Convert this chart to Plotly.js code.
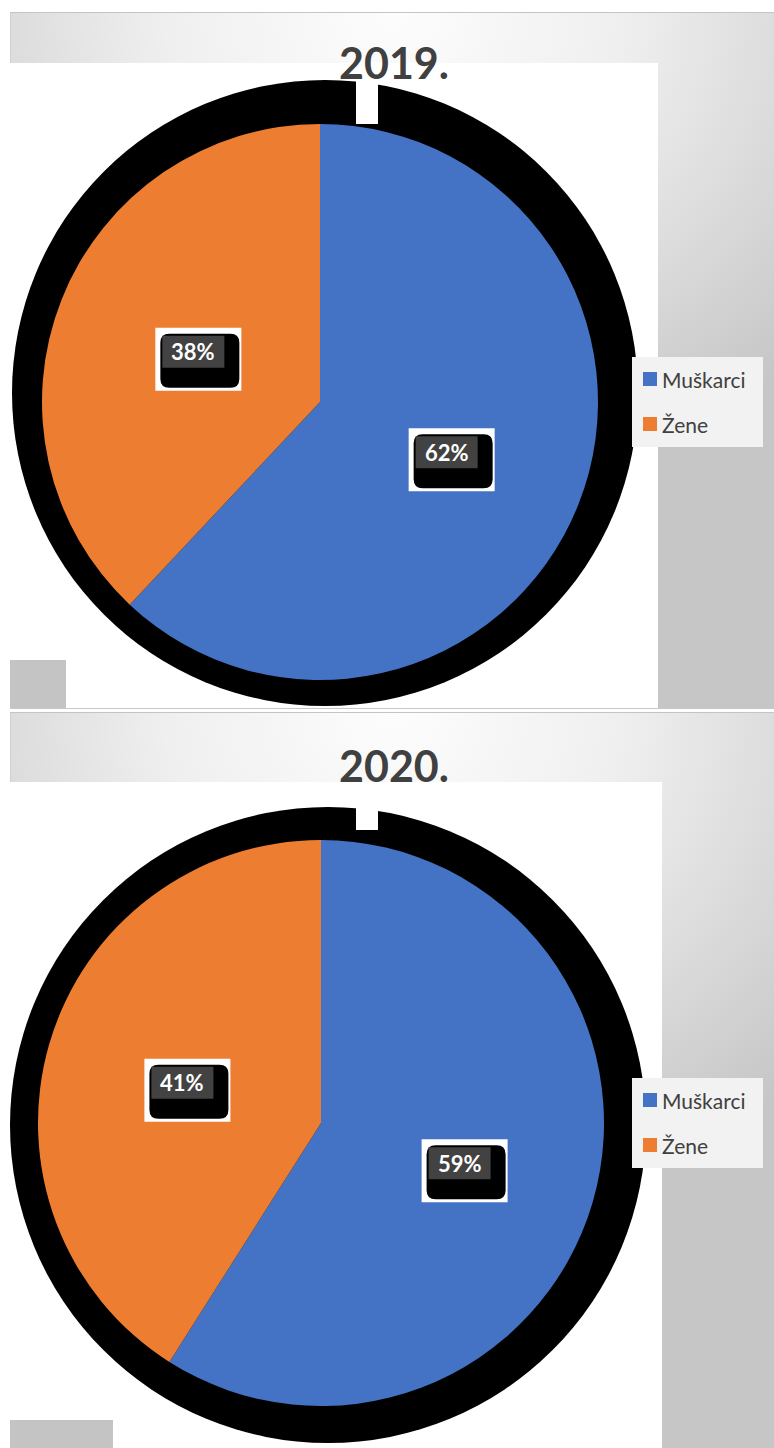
<!DOCTYPE html>
<html><head><meta charset="utf-8">
<script src="https://cdn.plot.ly/plotly-3.0.1.min.js"></script>
<style>
html,body{margin:0;padding:0;width:774px;height:1448px;overflow:hidden;background:#fff;}
.panel{position:absolute;left:10px;width:764px;border-top:1px solid #c4c4c4;border-left:1px solid #d0d0d0;
 background:radial-gradient(ellipse 75% 70% at 50% 0%, #fdfdfd 0%, #efefef 40%, #c6c6c6 100%);}
.white{position:absolute;background:#fff;}
.grey{position:absolute;background:#c4c4c4;}
#chart{position:absolute;left:0;top:0;width:774px;height:1448px;}
</style></head><body>
<div class="panel" style="top:12px;height:696px;"></div>
<div class="white" style="left:10px;top:63px;width:648px;height:645px;"></div>
<div class="grey" style="left:10px;top:660px;width:56px;height:48px;"></div>
<div class="panel" style="top:712px;height:736px;"></div>
<div class="white" style="left:10px;top:782px;width:652px;height:666px;"></div>
<div class="grey" style="left:10px;top:1420px;width:103px;height:28px;"></div>
<div id="chart"></div>
<script>
// ---- data ----
const labels = ["Muškarci", "Žene"];
const titles = ["2019.", "2020."];
const values2019 = [62, 38];
const values2020 = [59, 41];
const colors = ["#4472C4", "#ED7D31"];

const W = 774, H = 1448;
const px = x => x / W, py = y => 1 - y / H;

// layout geometry for each pie (pixels)
const pies = [
  {vals: values2019, title: titles[0], cx: 320, cy: 402, r: 278, titleY: 63,
   shadow: {cx: 325, cy: 393, r: 313}, gap: [356, 62, 378, 124], legendTop: 357, labelR: 0.49},
  {vals: values2020, title: titles[1], cx: 321, cy: 1123, r: 283, titleY: 765,
   shadow: {cx: 328, cy: 1125, r: 318}, gap: [356, 782, 378, 830], legendTop: 1078, labelR: 0.51}
];

const traces = [], shapes = [], annotations = [];
pies.forEach((p, i) => {
  shapes.push({type: 'circle', xref: 'paper', yref: 'paper', layer: 'below',
    x0: px(p.shadow.cx - p.shadow.r), x1: px(p.shadow.cx + p.shadow.r),
    y0: py(p.shadow.cy + p.shadow.r), y1: py(p.shadow.cy - p.shadow.r),
    fillcolor: '#000', line: {width: 0}});
  shapes.push({type: 'rect', xref: 'paper', yref: 'paper', layer: 'below',
    x0: px(p.gap[0]), x1: px(p.gap[2]), y0: py(p.gap[3]), y1: py(p.gap[1]),
    fillcolor: '#fff', line: {width: 0}});
  traces.push({
    type: 'pie', labels: labels, values: p.vals, sort: false, direction: 'clockwise', rotation: 0,
    marker: {colors: colors, line: {width: 0}}, textinfo: 'none', hoverinfo: 'label+percent',
    showlegend: false,
    domain: {x: [px(p.cx - p.r), px(p.cx + p.r)], y: [py(p.cy + p.r), py(p.cy - p.r)]}
  });
  annotations.push({text: '<b>' + p.title + '</b>', xref: 'paper', yref: 'paper',
    x: px(394), y: py(p.titleY), xanchor: 'center', yanchor: 'middle', showarrow: false,
    font: {family: 'Lato, sans-serif', size: 43, color: '#404040'}});
  const total = p.vals.reduce((a, b) => a + b, 0);
  let cum = 0;
  p.vals.forEach((v, k) => {
    const mid = (cum + v / 2) / total * 2 * Math.PI; cum += v;
    const tx = p.cx + p.labelR * p.r * Math.sin(mid);
    const ty = p.cy - p.labelR * p.r * Math.cos(mid);
    shapes.push({type: 'rect', xref: 'paper', yref: 'paper', layer: 'above',
      x0: px(tx - 38), x1: px(tx + 48), y0: py(ty + 39), y1: py(ty - 24), fillcolor: '#fff', line: {width: 0}});
    shapes.push({type: 'path', xref: 'paper', yref: 'paper', layer: 'above',
      path: roundRect(tx - 33, ty - 18, tx + 46, ty + 36, 9), fillcolor: '#000', line: {width: 0}});
    shapes.push({type: 'rect', xref: 'paper', yref: 'paper', layer: 'above',
      x0: px(tx - 31), x1: px(tx + 31), y0: py(ty + 16), y1: py(ty - 16), fillcolor: '#424242', line: {width: 0}});
    annotations.push({text: '<b>' + Math.round(v / total * 100) + '%</b>', xref: 'paper', yref: 'paper',
      x: px(tx), y: py(ty), xanchor: 'center', yanchor: 'middle', showarrow: false,
      font: {family: 'Lato, sans-serif', size: 22, color: '#fff'}});
  });
  const lx = 632, ly = p.legendTop;
  shapes.push({type: 'rect', xref: 'paper', yref: 'paper', layer: 'above',
    x0: px(lx), x1: px(lx + 131), y0: py(ly + 90), y1: py(ly), fillcolor: '#f2f2f2', line: {width: 0}});
  labels.forEach((lab, k) => {
    const iy = ly + 22 + k * 45;
    shapes.push({type: 'rect', xref: 'paper', yref: 'paper', layer: 'above',
      x0: px(lx + 11), x1: px(lx + 25), y0: py(iy + 7), y1: py(iy - 7), fillcolor: colors[k], line: {width: 0}});
    annotations.push({text: lab, xref: 'paper', yref: 'paper', x: px(lx + 28), y: py(iy),
      xanchor: 'left', yanchor: 'middle', showarrow: false,
      font: {family: 'Lato, sans-serif', size: 21, color: '#404040'}});
  });
});

function roundRect(x0, y0, x1, y1, r) {
  const X = x => px(x), Y = y => py(y);
  return `M${X(x0 + r)},${Y(y0)} L${X(x1 - r)},${Y(y0)} Q${X(x1)},${Y(y0)} ${X(x1)},${Y(y0 + r)} ` +
    `L${X(x1)},${Y(y1 - r)} Q${X(x1)},${Y(y1)} ${X(x1 - r)},${Y(y1)} L${X(x0 + r)},${Y(y1)} ` +
    `Q${X(x0)},${Y(y1)} ${X(x0)},${Y(y1 - r)} L${X(x0)},${Y(y0 + r)} Q${X(x0)},${Y(y0)} ${X(x0 + r)},${Y(y0)} Z`;
}

Plotly.newPlot('chart', traces, {
  width: W, height: H, margin: {l: 0, r: 0, t: 0, b: 0},
  paper_bgcolor: 'rgba(0,0,0,0)', plot_bgcolor: 'rgba(0,0,0,0)',
  showlegend: false, shapes: shapes, annotations: annotations
}, {displayModeBar: false, staticPlot: true});
</script>
</body></html>
